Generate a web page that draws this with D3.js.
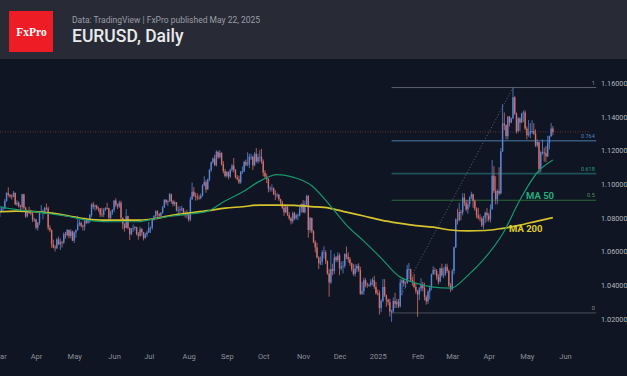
<!DOCTYPE html>
<html>
<head>
<meta charset="utf-8">
<script src="https://cdn.jsdelivr.net/npm/d3@7"></script>
<style>
html, body { margin: 0; padding: 0; background: #0f1522; overflow: hidden; }
svg { display: block; }
</style>
</head>
<body>
<script>
/******************/
/*     data       */
/******************/
// EURUSD daily, one value per weekday from 1 Mar 2024 to 22 May 2025
// open of a bar = close of the bar before (first open given apart)
var firstOpen = 1.0805;
var closes = [
	1.0838,1.0855,1.0855,1.0900,1.0948,1.0937,1.0928,1.0926,1.0948,1.0880,1.0890,1.0870,1.0865,1.0940,1.0860,1.0808,1.0840,1.0830,1.0825,1.0790,1.0790,
	1.0742,1.0770,1.0835,1.0836,1.0837,1.0860,1.0856,1.0742,1.0727,1.0643,1.0625,1.0620,1.0672,1.0643,1.0656,1.0655,1.0703,1.0697,1.0728,1.0693,1.0720,1.0665,
	1.0713,1.0727,1.0760,1.0770,1.0752,1.0748,1.0783,1.0771,1.0790,1.0818,1.0880,1.0866,1.0872,1.0856,1.0855,1.0820,1.0818,1.0847,1.0858,1.0857,1.0800,1.0832,1.0848,
	1.0903,1.0877,1.0868,1.0890,1.0800,1.0765,1.0740,1.0810,1.0740,1.0703,1.0735,1.0740,1.0745,1.0703,1.0693,1.0733,1.0714,1.0680,1.0702,1.0713,
	1.0740,1.0742,1.0790,1.0810,1.0840,1.0823,1.0813,1.0830,1.0862,1.0907,1.0893,1.0900,1.0940,1.0898,1.0882,1.0892,1.0845,1.0845,1.0850,1.0856,1.0820,1.0815,1.0825,
	1.0790,1.0910,1.0955,1.0930,1.0925,1.0920,1.0917,1.0932,1.0992,1.1012,1.0968,1.1028,1.1085,1.1130,1.1152,1.1113,1.1192,1.1160,1.1185,1.1120,1.1077,1.1048,
	1.1073,1.1045,1.1085,1.1110,1.1085,1.1040,1.1030,1.1010,1.1075,1.1075,1.1132,1.1115,1.1117,1.1162,1.1162,1.1112,1.1180,1.1135,1.1160,1.1163,1.1135,
	1.1068,1.1045,1.1030,1.0975,1.0975,1.0975,1.0940,1.0935,1.0937,1.0910,1.0890,1.0860,1.0833,1.0867,1.0817,1.0797,1.0780,1.0828,1.0797,1.0815,1.0815,1.0855,1.0883,
	1.0833,1.0880,1.0930,1.0728,1.0800,1.0720,1.0655,1.0625,1.0565,1.0530,1.0540,1.0595,1.0595,1.0545,1.0470,1.0417,1.0496,1.0485,1.0565,1.0550,1.0577,
	1.0500,1.0510,1.0515,1.0585,1.0568,1.0555,1.0530,1.0495,1.0467,1.0500,1.0515,1.0490,1.0350,1.0365,1.0430,1.0405,1.0400,1.0400,1.0420,1.0430,1.0390,1.0354,
	1.0352,1.0265,1.0307,1.0390,1.0340,1.0315,1.0300,1.0244,1.0245,1.0307,1.0290,1.0300,1.0275,1.0415,1.0430,1.0410,1.0415,1.0495,1.0495,1.0430,1.0420,1.0390,1.0365,
	1.0345,1.0380,1.0405,1.0383,1.0330,1.0305,1.0362,1.0385,1.0465,1.0490,1.0485,1.0450,1.0422,1.0500,1.0460,1.0465,1.0510,1.0485,1.0398,1.0375,
	1.0485,1.0625,1.0790,1.0785,1.0835,1.0832,1.0920,1.0890,1.0850,1.0880,1.0922,1.0940,1.0900,1.0855,1.0815,1.0800,1.0795,1.0755,1.0800,1.0830,1.0815,
	1.0790,1.0850,1.1050,1.0960,1.0910,1.0960,1.0945,1.1195,1.1360,1.1350,1.1285,1.1400,1.1365,1.1390,1.1515,1.1420,1.1315,1.1390,1.1365,1.1420,1.1425,1.1330,
	1.1290,1.1300,1.1315,1.1315,1.1300,1.1230,1.1250,1.1090,1.1190,1.1190,1.1185,1.1165,1.1245,1.1285,1.1330,1.1310
];
var highs = [
	1.0846,1.0866,1.0867,1.0912,1.0951,1.0981,1.0941,1.0939,1.0960,1.0951,1.0905,1.0898,1.0878,1.0943,1.0942,1.0866,1.0846,1.0865,1.0848,1.0834,1.0801,
	1.0795,1.0776,1.0840,1.0876,1.0851,1.0864,1.0885,1.0866,1.0756,1.0732,1.0671,1.0639,1.0680,1.0690,1.0677,1.0664,1.0714,1.0716,1.0734,1.0730,1.0733,1.0724,
	1.0719,1.0732,1.0812,1.0790,1.0779,1.0760,1.0790,1.0801,1.0794,1.0823,1.0886,1.0895,1.0880,1.0878,1.0866,1.0858,1.0860,1.0858,1.0864,1.0889,1.0860,1.0842,1.0852,
	1.0905,1.0916,1.0885,1.0902,1.0902,1.0803,1.0768,1.0852,1.0813,1.0743,1.0741,1.0761,1.0752,1.0747,1.0717,1.0748,1.0740,1.0717,1.0712,1.0725,
	1.0776,1.0749,1.0799,1.0816,1.0845,1.0845,1.0830,1.0835,1.0871,1.0910,1.0911,1.0904,1.0948,1.0944,1.0907,1.0902,1.0894,1.0868,1.0868,1.0872,1.0859,1.0840,1.0848,
	1.0830,1.0926,1.1009,1.0982,1.0949,1.0946,1.0935,1.0945,1.1000,1.1047,1.1025,1.1033,1.1091,1.1134,1.1158,1.1174,1.1201,1.1196,1.1202,1.1190,1.1137,1.1090,
	1.1077,1.1075,1.1091,1.1120,1.1155,1.1089,1.1054,1.1050,1.1077,1.1105,1.1139,1.1146,1.1189,1.1180,1.1180,1.1168,1.1190,1.1214,1.1180,1.1202,1.1210,
	1.1147,1.1083,1.1062,1.1036,1.0986,1.0999,1.0981,1.0964,1.0949,1.0942,1.0914,1.0902,1.0871,1.0869,1.0867,1.0834,1.0807,1.0837,1.0836,1.0823,1.0827,1.0870,1.0885,
	1.0905,1.0902,1.0937,1.0935,1.0806,1.0800,1.0727,1.0667,1.0653,1.0572,1.0571,1.0609,1.0631,1.0608,1.0547,1.0497,1.0610,1.0528,1.0587,1.0574,1.0596,
	1.0590,1.0540,1.0545,1.0590,1.0630,1.0595,1.0568,1.0535,1.0527,1.0523,1.0526,1.0531,1.0510,1.0421,1.0446,1.0442,1.0416,1.0410,1.0437,1.0445,1.0456,1.0420,
	1.0375,1.0370,1.0318,1.0437,1.0436,1.0346,1.0320,1.0320,1.0255,1.0328,1.0355,1.0320,1.0317,1.0436,1.0438,1.0435,1.0423,1.0521,1.0533,1.0498,1.0451,1.0467,1.0410,
	1.0372,1.0390,1.0442,1.0420,1.0415,1.0341,1.0372,1.0398,1.0470,1.0513,1.0504,1.0496,1.0467,1.0505,1.0528,1.0505,1.0527,1.0528,1.0494,1.0412,
	1.0497,1.0630,1.0797,1.0854,1.0889,1.0847,1.0947,1.0945,1.0906,1.0906,1.0927,1.0955,1.0944,1.0908,1.0862,1.0860,1.0822,1.0808,1.0812,1.0837,1.0858,
	1.0830,1.0880,1.1144,1.1107,1.1047,1.0970,1.1100,1.1214,1.1474,1.1425,1.1355,1.1405,1.1405,1.1395,1.1573,1.1521,1.1425,1.1399,1.1396,1.1423,1.1437,1.1438,
	1.1343,1.1380,1.1363,1.1380,1.1362,1.1325,1.1266,1.1250,1.1198,1.1265,1.1217,1.1226,1.1287,1.1288,1.1363,1.1345
];
var lows = [
	1.0797,1.0832,1.0838,1.0852,1.0895,1.0925,1.0917,1.0908,1.0922,1.0876,1.0870,1.0860,1.0837,1.0850,1.0850,1.0800,1.0802,1.0822,1.0815,1.0775,1.0777,
	1.0731,1.0724,1.0758,1.0827,1.0792,1.0822,1.0845,1.0727,1.0715,1.0622,1.0619,1.0601,1.0615,1.0640,1.0610,1.0624,1.0645,1.0676,1.0689,1.0677,1.0680,1.0662,
	1.0650,1.0681,1.0725,1.0750,1.0743,1.0725,1.0724,1.0763,1.0765,1.0769,1.0806,1.0852,1.0842,1.0848,1.0836,1.0805,1.0805,1.0804,1.0840,1.0850,1.0789,1.0788,1.0817,
	1.0833,1.0864,1.0853,1.0858,1.0790,1.0732,1.0718,1.0737,1.0731,1.0668,1.0696,1.0715,1.0725,1.0697,1.0671,1.0688,1.0695,1.0666,1.0677,1.0686,
	1.0710,1.0710,1.0730,1.0785,1.0795,1.0790,1.0802,1.0805,1.0825,1.0860,1.0880,1.0870,1.0895,1.0885,1.0868,1.0870,1.0838,1.0825,1.0826,1.0838,1.0815,1.0802,1.0796,
	1.0777,1.0780,1.0905,1.0924,1.0903,1.0904,1.0908,1.0910,1.0926,1.0987,1.0949,1.0968,1.1017,1.1072,1.1122,1.1106,1.1104,1.1150,1.1152,1.1110,1.1063,1.1040,
	1.1040,1.1028,1.1036,1.1074,1.1070,1.1034,1.1022,1.1001,1.1002,1.1060,1.1073,1.1105,1.1107,1.1095,1.1143,1.1084,1.1105,1.1127,1.1122,1.1132,1.1121,
	1.1046,1.1033,1.1006,1.0951,1.0955,1.0957,1.0935,1.0905,1.0920,1.0900,1.0878,1.0851,1.0812,1.0828,1.0810,1.0787,1.0761,1.0767,1.0786,1.0790,1.0786,1.0808,1.0830,
	1.0830,1.0826,1.0872,1.0683,1.0712,1.0709,1.0650,1.0595,1.0560,1.0496,1.0520,1.0520,1.0559,1.0526,1.0462,1.0332,1.0408,1.0459,1.0466,1.0537,1.0537,
	1.0460,1.0489,1.0471,1.0502,1.0555,1.0536,1.0515,1.0482,1.0456,1.0452,1.0477,1.0480,1.0343,1.0343,1.0344,1.0388,1.0385,1.0393,1.0392,1.0400,1.0379,1.0344,
	1.0340,1.0226,1.0240,1.0300,1.0331,1.0272,1.0282,1.0215,1.0183,1.0238,1.0266,1.0265,1.0266,1.0268,1.0340,1.0392,1.0384,1.0412,1.0435,1.0420,1.0397,1.0382,1.0350,
	1.0213,1.0312,1.0362,1.0365,1.0310,1.0285,1.0290,1.0316,1.0370,1.0462,1.0462,1.0433,1.0405,1.0417,1.0448,1.0442,1.0455,1.0473,1.0389,1.0360,
	1.0370,1.0465,1.0620,1.0760,1.0779,1.0786,1.0815,1.0871,1.0838,1.0824,1.0862,1.0911,1.0860,1.0842,1.0797,1.0790,1.0778,1.0745,1.0733,1.0768,1.0778,
	1.0777,1.0772,1.0850,1.0947,1.0880,1.0880,1.0933,1.0940,1.1190,1.1320,1.1265,1.1265,1.1342,1.1362,1.1385,1.1410,1.1300,1.1306,1.1315,1.1362,1.1369,1.1320,
	1.1265,1.1281,1.1273,1.1298,1.1292,1.1220,1.1219,1.1065,1.1070,1.1173,1.1133,1.1131,1.1160,1.1206,1.1280,1.1290
];
// moving averages, at these bar numbers
var maBars = [0,10,20,30,40,50,60,70,80,90,100,110,120,130,140,150,160,170,180,190,200,210,220,230,240,250,260,270,280,290,300,310,319];
var ma50 = [1.0866,1.0849,1.0837,1.0823,1.0808,1.0787,1.0778,1.0777,1.0777,1.0796,1.0811,1.0823,1.0840,1.0900,1.0953,1.1018,1.1057,1.1039,1.0991,1.0880,1.0757,1.0662,1.0561,1.0455,1.0413,1.0389,1.0383,1.0459,1.0564,1.0704,1.0906,1.1069,1.1143];
var ma200 = [1.0836,1.0840,1.0837,1.0828,1.0811,1.0793,1.0787,1.0787,1.0787,1.0796,1.0817,1.0830,1.0843,1.0858,1.0866,1.0876,1.0876,1.0874,1.0867,1.0858,1.0834,1.0811,1.0787,1.0769,1.0754,1.0745,1.0728,1.0723,1.0725,1.0738,1.0757,1.0781,1.0801];
// price axis
var priceTicks = [1.02, 1.04, 1.06, 1.08, 1.10, 1.12, 1.14, 1.16];
// fibonacci retracement drawn from the January low to the April high
var fibLevels = [1, 0.764, 0.618, 0.5, 0];
var fibLabels = ["1", "0.764", "0.618", "0.5", "0"];
var fibLow = 1.0236, fibHigh = 1.1573;
var fibLowBar = 226, fibHighBar = 296, fibEndBar = 344;

/******************/
/*   d3 init var  */
/******************/
var W = 627, H = 376;
var up = "#5b86d4", down = "#d46f6b";
var fibColors = ["#5c606b", "#35587f", "#1d5357", "#2b6a3a", "#4a4e5a"];
var fibText = ["#8a8d96", "#4f80bc", "#22a07c", "#4f9456", "#8a8d96"];

// weekday calendar starting 1 Mar 2024
var dates = [];
for (var d = new Date(2024, 2, 1); dates.length < 345; d.setDate(d.getDate() + 1)) {
	if (d.getDay() !== 0 && d.getDay() !== 6) dates.push(new Date(d));
}

var x = d3.scaleLinear().domain([0, 340]).range([-0.4, 589.3]);
var y = d3.scaleLinear().domain([1.02, 1.16]).range([319, 83]);

var svg = d3.select("body").append("svg")
	.attr("width", W).attr("height", H)
	.style("font-family", "Roboto, 'Liberation Sans', sans-serif");

svg.append("rect").attr("width", W).attr("height", H).attr("fill", "#0f1522");

/******************/
/*    header      */
/******************/
svg.append("rect").attr("width", W).attr("height", 59).attr("fill", "#282b36");
svg.append("rect").attr("x", 9).attr("y", 11).attr("width", 44).attr("height", 41).attr("fill", "#ee1c25");
svg.append("text").attr("x", 31.5).attr("y", 35.5).attr("text-anchor", "middle")
	.attr("fill", "#ffffff").attr("font-family", "'Liberation Serif', 'DejaVu Serif', serif")
	.attr("font-size", 11.5).attr("font-weight", "bold").text("FxPro");
svg.append("text").attr("x", 72).attr("y", 23.3).attr("fill", "#9a9da7").attr("font-size", 8.5)
	.text("Data: TradingView | FxPro published May 22, 2025");
svg.append("text").attr("x", 72).attr("y", 41.8).attr("fill", "#e9eaee").attr("font-size", 17.5)
	.attr("font-weight", 500).text("EURUSD, Daily");

/******************/
/*    d3 draw     */
/******************/
var plot = svg.append("g");

// last price line
var last = closes[closes.length - 1];
plot.append("line").attr("x1", 0).attr("x2", 590).attr("y1", y(last)).attr("y2", y(last))
	.attr("stroke", "#6a3039").attr("stroke-dasharray", "1,1.5");

// fibonacci levels
fibLevels.forEach(function(lv, i) {
	var p = fibLow + (fibHigh - fibLow) * lv;
	plot.append("line").attr("x1", x(fibLowBar)).attr("x2", x(fibEndBar))
		.attr("y1", y(p)).attr("y2", y(p))
		.attr("stroke", fibColors[i]).attr("stroke-width", (lv === 0.764 || lv === 0.618) ? 1.6 : 1);
	plot.append("text").attr("x", x(fibEndBar) - 1.5).attr("y", y(p) - 3)
		.attr("text-anchor", "end").attr("fill", fibText[i]).attr("font-size", 5.5)
		.text(fibLabels[i]);
});
plot.append("line").attr("x1", x(fibLowBar)).attr("y1", y(fibLow))
	.attr("x2", x(fibHighBar)).attr("y2", y(fibHigh))
	.attr("stroke", "#5d616c").attr("stroke-dasharray", "1,2");

// candles
var candles = closes.map(function(c, i) {
	var o = i === 0 ? firstOpen : closes[i - 1];
	return { i: i, o: o, c: c, h: Math.max(highs[i], o, c), l: Math.min(lows[i], o, c) };
});
var cg = plot.selectAll(".candle").data(candles).enter().append("g").attr("class", "candle");
cg.append("line")
	.attr("x1", function(d) { return x(d.i); }).attr("x2", function(d) { return x(d.i); })
	.attr("y1", function(d) { return y(d.h); }).attr("y2", function(d) { return y(d.l); })
	.attr("stroke", function(d) { return d.c >= d.o ? up : down; }).attr("stroke-width", 0.8);
cg.append("rect")
	.attr("x", function(d) { return x(d.i) - 0.7; }).attr("width", 1.4)
	.attr("y", function(d) { return y(Math.max(d.o, d.c)); })
	.attr("height", function(d) { return Math.max(0.8, Math.abs(y(d.o) - y(d.c))); })
	.attr("fill", function(d) { return d.c >= d.o ? up : down; });

// moving averages
var maLine = function(vals) {
	return d3.line().x(function(d, i) { return x(maBars[i]); })
		.y(function(d) { return y(d); }).curve(d3.curveMonotoneX)(vals);
};
plot.append("path").attr("d", maLine(ma200)).attr("fill", "none")
	.attr("stroke", "#d6c42e").attr("stroke-width", 1.7);
plot.append("path").attr("d", maLine(ma50)).attr("fill", "none")
	.attr("stroke", "#16976c").attr("stroke-width", 1.2);

plot.append("text").attr("x", x(303.5)).attr("y", y(1.0912)).attr("fill", "#1fae7e")
	.attr("font-size", 9.5).attr("font-weight", "bold").text("MA 50");
plot.append("text").attr("x", x(293.7)).attr("y", y(1.0716)).attr("fill", "#e0cc2c")
	.attr("font-size", 9.5).attr("font-weight", "bold").text("MA 200");

/******************/
/*     axes       */
/******************/
var monthIdx = [];
for (var i = 0; i < 340; i++) {
	if (i === 0 || dates[i].getMonth() !== dates[i - 1].getMonth()) monthIdx.push(i);
}
var xAxis = d3.axisBottom(x).tickValues(monthIdx).tickSize(0).tickPadding(3)
	.tickFormat(function(i) {
		return dates[i].getMonth() === 0 ? d3.timeFormat("%Y")(dates[i]) : d3.timeFormat("%b")(dates[i]);
	});
var gx = svg.append("g").attr("transform", "translate(0,351)").call(xAxis);
gx.select(".domain").remove();
gx.selectAll("text").attr("fill", "#8c909a").attr("font-size", 7.5)
	.attr("font-family", "Roboto, 'Liberation Sans', sans-serif");

var yAxis = d3.axisRight(y).tickValues(priceTicks).tickSize(0).tickPadding(0)
	.tickFormat(d3.format(".6f"));
var gy = svg.append("g").attr("transform", "translate(601,0)").call(yAxis);
gy.select(".domain").remove();
gy.selectAll("text").attr("fill", "#b2b5be").attr("font-size", 7.3)
	.attr("font-family", "Roboto, 'Liberation Sans', sans-serif");
</script>
</body>
</html>
